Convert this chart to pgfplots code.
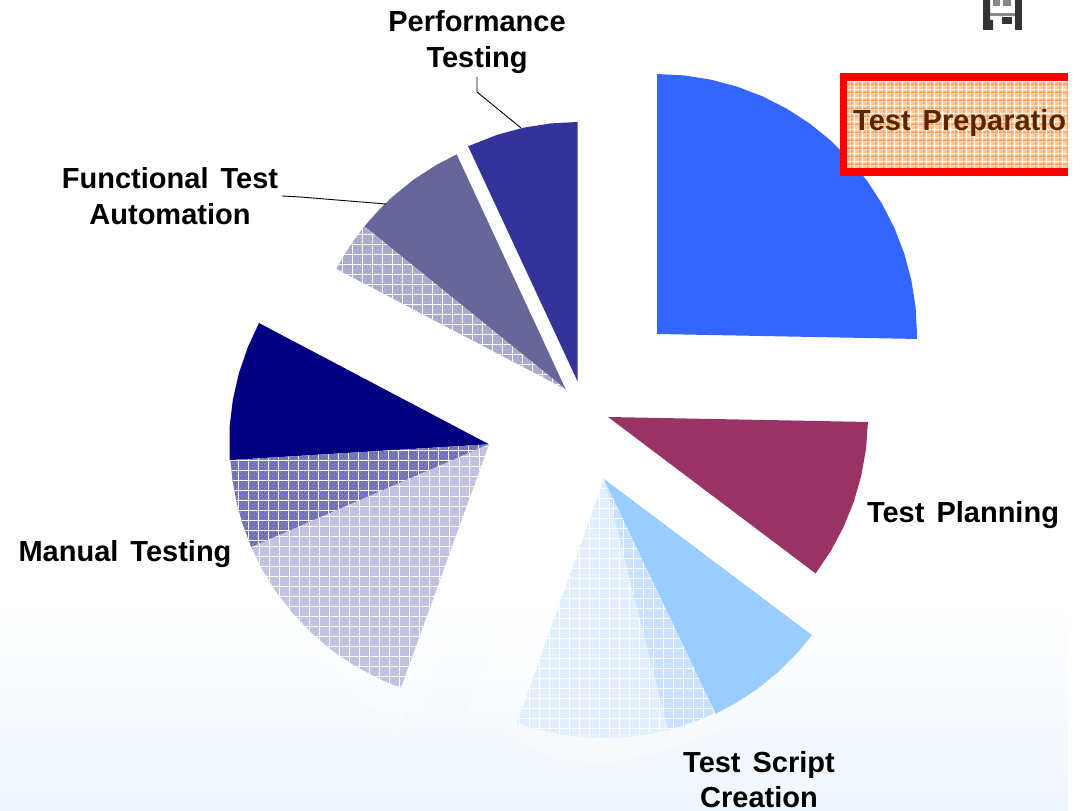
\documentclass[border=0pt]{standalone}
\usepackage{pgfplots}
\pgfplotsset{compat=1.18}
\usetikzlibrary{patterns}
\usepackage{fontspec}
\setmainfont{Liberation Sans}
\definecolor{cblue}{HTML}{3366FF}
\definecolor{cplum}{HTML}{993366}
\definecolor{csky}{HTML}{99CCFF}
\definecolor{cnavy}{HTML}{000080}
\definecolor{cslate}{HTML}{666699}
\definecolor{cindigo}{HTML}{333399}
\definecolor{gradend}{HTML}{EEF6FE}
\definecolor{hA}{HTML}{C6E0FF}
\definecolor{hB}{HTML}{E0EEFF}
\definecolor{hC}{HTML}{6C6CB6}
\definecolor{hCd}{HTML}{8484C8}
\definecolor{hD}{HTML}{BEBEE0}
\definecolor{hDd}{HTML}{CACAE6}
\definecolor{hE}{HTML}{A6A6CA}
\definecolor{hEd}{HTML}{B4B4D4}
\definecolor{boxbase}{HTML}{FFCFA6}
\definecolor{boxline}{HTML}{FF9A55}
\definecolor{boxtext}{HTML}{5A2600}
\definecolor{icondark}{HTML}{333333}
\definecolor{icongrey}{HTML}{888888}
\pgfdeclarepatternformonly{wgrid}{\pgfqpoint{0pt}{0pt}}{\pgfqpoint{10.4pt}{10.4pt}}{\pgfqpoint{10.4pt}{10.4pt}}{%
  \pgfpathrectangle{\pgfqpoint{0pt}{0pt}}{\pgfqpoint{10.4pt}{0.9pt}}%
  \pgfpathrectangle{\pgfqpoint{0pt}{0pt}}{\pgfqpoint{0.9pt}{10.4pt}}%
  \pgfusepath{fill}}
\pgfdeclarepatternformonly{wdots}{\pgfqpoint{0pt}{0pt}}{\pgfqpoint{4.16pt}{4.16pt}}{\pgfqpoint{4.16pt}{4.16pt}}{%
  \pgfpathrectangle{\pgfqpoint{0pt}{0pt}}{\pgfqpoint{2.08pt}{2.08pt}}%
  \pgfpathrectangle{\pgfqpoint{2.08pt}{2.08pt}}{\pgfqpoint{2.08pt}{2.08pt}}%
  \pgfusepath{fill}}
\pgfdeclarepatternformonly{ogrid}{\pgfqpoint{0pt}{0pt}}{\pgfqpoint{7.6pt}{7.6pt}}{\pgfqpoint{7.6pt}{7.6pt}}{%
  \pgfpathrectangle{\pgfqpoint{0pt}{0pt}}{\pgfqpoint{7.6pt}{1.4pt}}%
  \pgfpathrectangle{\pgfqpoint{0pt}{0pt}}{\pgfqpoint{1.4pt}{7.6pt}}%
  \pgfusepath{fill}}
\pgfdeclarepatternformonly{owgrid}{\pgfqpoint{0pt}{0pt}}{\pgfqpoint{7.6pt}{7.6pt}}{\pgfqpoint{7.6pt}{7.6pt}}{%
  \pgfpathrectangle{\pgfqpoint{3pt}{0pt}}{\pgfqpoint{1pt}{7.6pt}}%
  \pgfpathrectangle{\pgfqpoint{0pt}{3pt}}{\pgfqpoint{7.6pt}{1pt}}%
  \pgfusepath{fill}}
% solid wedge: colour, centre x, centre y (up), polar coordinates
\newcommand\pie[4]{\addplot[draw=none,fill=#1,data cs=polar,shift={(#2pt,#3pt)},forget plot] coordinates {#4};}
% hatched wedge: base, dots, centre x, centre y, polar coordinates
\newcommand\hpie[5]{%
  \addplot[draw=none,fill=#1,data cs=polar,shift={(#3pt,#4pt)},forget plot] coordinates {#5};
  \addplot[draw=none,pattern=wdots,pattern color=#2,data cs=polar,shift={(#3pt,#4pt)},forget plot] coordinates {#5};
  \addplot[draw=none,pattern=wgrid,pattern color=white,data cs=polar,shift={(#3pt,#4pt)},forget plot] coordinates {#5};}
\newcommand\lab[3]{\node[anchor=base,inner sep=0pt,font=\fontsize{29}{31}\selectfont\bfseries,text=black] at (axis cs:#1,#2) {\spaceskip=12pt\relax #3};}
\begin{document}
\begin{tikzpicture}
\useasboundingbox (0,0) rectangle (1088pt,811pt);
\begin{axis}[
  anchor=south west,at={(0,0)},
  width=1088pt,height=811pt,scale only axis,
  xmin=0,xmax=1088,ymin=0,ymax=811,
  hide axis,clip=true]
% background gradient
\addplot[draw=none,top color=white,bottom color=gradend,forget plot] coordinates {(0,0)(1068,0)(1068,211)(0,211)};
% pale reflections under the lower slices
\addplot[draw=none,fill=white,fill opacity=0.38,forget plot] coordinates {(300,171)(370,103)(397,76)(405,101)(420,95)(445,171)};
\addplot[draw=none,fill=white,fill opacity=0.38,forget plot] coordinates {(510,211)(463,93)(497,84)(553,51)(610,46)(673,63)(723,81)(716,111)(600,211)};
% Test Preparation
\pie{cblue}{657}{477}{(0,0)(90,260)(84,260)(78,260)(72,260)(66,260)(60,260)(54,260)(48,260)(42,260)(36,260)(30,260)(24,260)(18,260)(12,260)(6,260)(0,260)(-1.1,260)}
% Test Planning
\pie{cplum}{608}{394}{(0,0)(-1.1,260)(-7,260)(-13,260)(-19,260)(-25,260)(-31,260)(-37,260)}
% Test Script Creation
\hpie{hA}{hA!85!white}{604}{332}{(0,0)(-64.5,259)(-68,259)(-72,259)(-75.7,259)}
\pie{csky}{604}{332}{(0,0)(-36.9,260)(-42,260)(-48,260)(-54,260)(-60,260)(-64.5,260)}
\hpie{hB}{hB!85!white}{604}{332}{(0,0)(-75.7,259)(-81,259)(-87,259)(-93,259)(-99,259)(-105,259)(-109.6,259)}
% Manual Testing
\pie{cnavy}{489}{366.7}{(0,0)(152.2,260)(158,260)(164,260)(170,260)(176,260)(183.5,260)}
\hpie{hC}{hCd}{489}{366.7}{(0,0)(183.5,259)(188,259)(193,259)(198,259)(203.4,259)}
\hpie{hD}{hDd}{489}{366.7}{(0,0)(203.4,259)(209,259)(215,259)(221,259)(227,259)(233,259)(239,259)(245,259)(250.1,259)}
% Functional Test Automation
\pie{cslate}{565.7}{421.7}{(0,0)(114.9,259)(120,259)(126,259)(132,259)(136,259)(141,259)}
\hpie{hE}{hEd}{565.7}{421.7}{(0,0)(141,259)(145,259)(149,259)(152.3,259)}
% Performance Testing
\pie{cindigo}{577.7}{429.3}{(0,0)(90,259.7)(96,259.7)(102,259.7)(108,259.7)(114.96,259.7)}
% leader lines
\addplot[black,line width=0.9pt,forget plot] coordinates {(477,734)(477,719)(521,683)};
\addplot[black,line width=0.9pt,forget plot] coordinates {(282,615)(300,614)(386,607)};
% callout box
\addplot[draw=none,fill=red,forget plot] coordinates {(839.5,737.5)(1068,737.5)(1068,635.3)(839.5,635.3)};
\addplot[draw=none,fill=boxbase,forget plot] coordinates {(847.4,729.7)(1068,729.7)(1068,643.3)(847.4,643.3)};
\addplot[draw=none,pattern=ogrid,pattern color=boxline,forget plot] coordinates {(847.4,729.7)(1068,729.7)(1068,643.3)(847.4,643.3)};
\addplot[draw=none,pattern=owgrid,pattern color=white,forget plot] coordinates {(847.4,729.7)(1068,729.7)(1068,643.3)(847.4,643.3)};
% icon
\addplot[draw=none,fill=icondark,forget plot] coordinates {(983,811)(990,811)(990,791)(993,791)(993,781)(983,781)};
\addplot[draw=none,fill=icondark,forget plot] coordinates {(1015,811)(1022,811)(1022,781)(1015,781)};
\addplot[draw=none,fill=icongrey,forget plot] coordinates {(990,798)(1015,798)(1015,795)(990,795)};
\addplot[draw=none,fill=icongrey,forget plot] coordinates {(993,811)(1000,811)(1000,805)(993,805)};
\addplot[draw=none,fill=icongrey,forget plot] coordinates {(1003,811)(1011,811)(1011,805)(1003,805)};
\addplot[draw=none,fill=icondark,forget plot] coordinates {(1002,794)(1012,794)(1012,787)(1002,787)};
% labels
\lab{477}{779}{Performance}
\lab{477}{743}{Testing}
\lab{170}{622}{Functional Test}
\lab{170}{586}{Automation}
\lab{125}{249}{Manual Testing}
\lab{963}{288}{Test Planning}
\lab{759}{38}{Test Script}
\lab{759}{3}{Creation}
\node[anchor=base west,inner sep=0pt,font=\fontsize{29}{31}\selectfont\bfseries,text=boxtext] at (axis cs:853,680) {\spaceskip=12pt\relax Test Preparatio};
\end{axis}
\end{tikzpicture}
\end{document}
